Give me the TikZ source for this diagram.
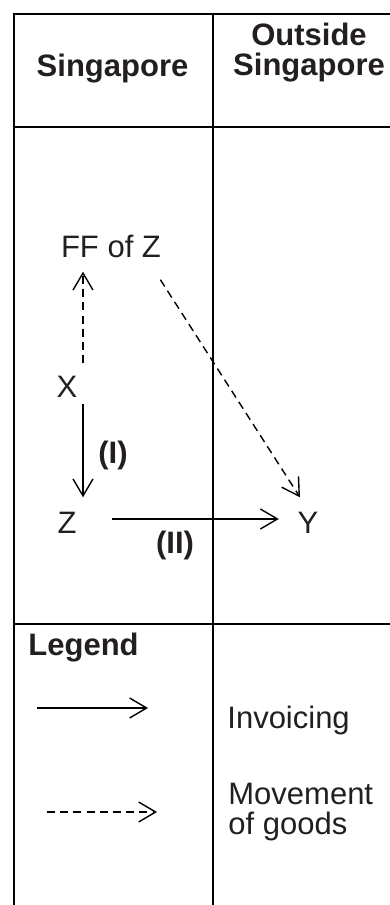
\documentclass[tikz,border=0pt]{standalone}
\usepackage{fontspec}
\setmainfont{Liberation Sans}
\usepackage{xcolor}
\usetikzlibrary{arrows.meta}

\definecolor{inkc}{HTML}{231F20}

\begin{document}
\begin{tikzpicture}[x=0.5pt,y=-0.5pt,
    grid/.style={line width=1.3pt},
    lbl/.style={text=inkc,inner sep=0pt,font=\fontsize{15.5}{15}\selectfont},
    hdr/.style={lbl,font=\fontsize{15.5}{15}\selectfont\bfseries},
    inv/.style={line width=0.7pt,-{Straight Barb[length=8.5pt,width=10pt]}},
    goods/.style={inv,dash pattern=on 4pt off 2.6pt}]
    \useasboundingbox (0,0) rectangle (390,905);
    \clip (0,0) rectangle (390,905);

    % Table rules
    \draw[grid] (400,14) -- (14,14) -- (14,910);
    \draw[grid] (213,14) -- (213,910);
    \draw[grid] (14,127) -- (400,127);
    \draw[grid] (14,624) -- (400,624);

    % Column heads
    \node[hdr,anchor=base] (sg) at (112.5,76) {Singapore};
    \node[hdr,anchor=base,align=center] (osg) at (309,75) {Outside\\Singapore};

    % Parties
    \node[lbl,anchor=base] (ff) at (111,257) {FF of Z};
    \node[lbl,anchor=base] (x) at (67,397) {X};
    \node[lbl,anchor=base] (z) at (67,533) {Z};
    \node[lbl,anchor=base] (y) at (308,533) {Y};
    \coordinate (colA) at (83,0);
    \coordinate (rowB) at (0,519);

    % Flows
    \draw[goods,shorten <=6pt,shorten >=7pt] (x.north -| colA) -- (ff.south -| colA);
    \draw[goods] ([shift={(-0.5pt,-11pt)}]ff.south east) -- ([shift={(-4pt,7pt)}]y.north);
    \draw[inv,shorten <=3.5pt,shorten >=7pt] (x.south -| colA) -- (z.north -| colA);
    \draw[inv,shorten <=17.75pt,shorten >=9.25pt] (z.east |- rowB) -- (y.west |- rowB);
    \node[hdr,anchor=base] (one) at (113,463.5) {(I)};
    \node[hdr,anchor=base] (two) at (175,553.5) {(II)};

    % Legend
    \node[hdr,anchor=base west] (leg) at (28,655) {Legend};
    \coordinate (invA) at (37,708);
    \coordinate (invB) at (148,708);
    \coordinate (movA) at (47,812);
    \coordinate (movB) at (157,812);
    \draw[inv] (invA) -- (invB);
    \draw[goods] (movA) -- (movB);
    \node[lbl,anchor=base west] (invtxt) at (227,728) {Invoicing};
    \node[lbl,anchor=base west,align=left] (movtxt) at (228,834) {Movement\\of goods};
\end{tikzpicture}
\end{document}
